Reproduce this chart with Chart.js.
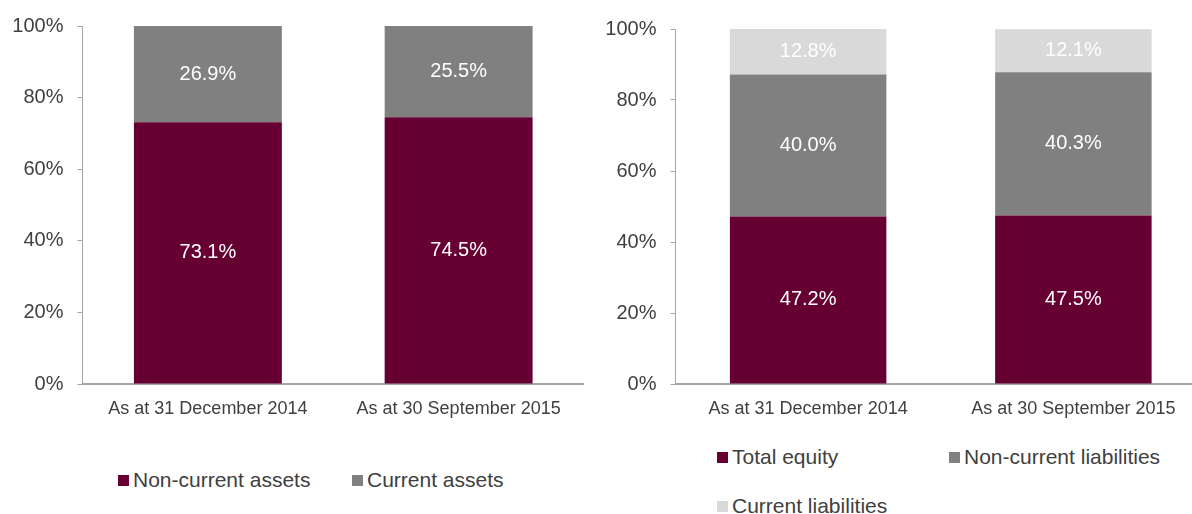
<!DOCTYPE html>
<html>
<head>
<meta charset="utf-8">
<script src="https://cdn.jsdelivr.net/npm/chart.js@4.4.1/dist/chart.umd.min.js"></script>
<style>
  html, body { margin: 0; padding: 0; background: #fff; overflow: hidden; }
  body { width: 1192px; height: 514px; position: relative; font-family: 'Liberation Sans', Arial, sans-serif; }
  .box { position: absolute; top: 0; }
  .leg { position: absolute; display: flex; align-items: center; font-size: 21px; color: #404040; white-space: nowrap; line-height: 24px; }
  .leg i { display: inline-block; width: 11px; height: 11px; margin-right: 4px; }
</style>
</head>
<body>
<div class="box" style="left:0;width:584px;height:440px"><canvas id="assets"></canvas></div>
<div class="box" style="left:596px;width:610px;height:440px"><canvas id="liabs"></canvas></div>
<div id="legends"></div>
<script>
// Kategorien
const categories = ['As at 31 December 2014', 'As at 30 September 2015'];

// Aktiva
const nonCurrentAssets = [73.1, 74.5];
const currentAssets = [26.9, 25.5];

// Passiva
const totalEquity = [47.2, 47.5];
const nonCurrentLiabilities = [40.0, 40.3];
const currentLiabilities = [12.8, 12.1];

const yTicks = [0, 20, 40, 60, 80, 100];

const MAROON = '#660033';
const GREY = '#808080';
const LIGHT = '#d9d9d9';
const TEXT = '#404040';
const AXIS = '#a6a6a6';

Chart.defaults.font.family = "'Liberation Sans', Arial, sans-serif";
Chart.defaults.color = TEXT;

// Werte mittig in die Balken schreiben
const valueLabels = {
  id: 'valueLabels',
  afterDatasetsDraw(chart) {
    const ctx = chart.ctx;
    ctx.save();
    ctx.font = "20px 'Liberation Sans', Arial, sans-serif";
    ctx.fillStyle = '#ffffff';
    ctx.textAlign = 'center';
    ctx.textBaseline = 'middle';
    chart.data.datasets.forEach((ds, i) => {
      chart.getDatasetMeta(i).data.forEach((bar, j) => {
        const y = (bar.y + bar.base) / 2;
        ctx.fillText(ds.data[j].toFixed(1) + '%', bar.x, y);
      });
    });
    ctx.restore();
  }
};

function makeChart(id, datasets, yWidth, topPad) {
  return new Chart(document.getElementById(id), {
    type: 'bar',
    data: { labels: categories, datasets: datasets },
    plugins: [valueLabels],
    options: {
      responsive: true,
      maintainAspectRatio: false,
      animation: false,
      layout: { padding: { top: topPad, right: 0, bottom: 0, left: 0 } },
      plugins: { legend: { display: false }, tooltip: { enabled: false } },
      datasets: { bar: { categoryPercentage: 1, barPercentage: 0.59 } },
      scales: {
        x: {
          stacked: true,
          grid: { display: false, drawTicks: false },
          border: { color: AXIS, width: 2 },
          ticks: { padding: 14, font: { size: 18 }, color: TEXT, maxRotation: 0 },
          afterFit: s => { s.height = 56; }
        },
        y: {
          stacked: true,
          min: 0,
          max: 100,
          afterBuildTicks: s => { s.ticks = yTicks.map(v => ({ value: v })); },
          grid: { drawOnChartArea: false, drawTicks: true, tickLength: 5, color: AXIS },
          border: { color: AXIS, width: 1 },
          ticks: { padding: 14, font: { size: 20 }, color: TEXT, callback: v => v + '%' },
          afterFit: s => { s.width = yWidth; }
        }
      }
    }
  });
}

makeChart('assets', [
  { label: 'Non-current assets', data: nonCurrentAssets, backgroundColor: MAROON },
  { label: 'Current assets', data: currentAssets, backgroundColor: GREY }
], 82.5, 24);

makeChart('liabs', [
  { label: 'Total equity', data: totalEquity, backgroundColor: MAROON },
  { label: 'Non-current liabilities', data: nonCurrentLiabilities, backgroundColor: GREY },
  { label: 'Current liabilities', data: currentLiabilities, backgroundColor: LIGHT }
], 79.5, 29);

// Legenden
const legendItems = [
  ['Non-current assets', MAROON, 118, 480],
  ['Current assets', GREY, 352, 480],
  ['Total equity', MAROON, 717, 457],
  ['Non-current liabilities', GREY, 949, 457],
  ['Current liabilities', LIGHT, 717, 506]
];
const legends = document.getElementById('legends');
legendItems.forEach(([text, color, x, y]) => {
  const el = document.createElement('div');
  el.className = 'leg';
  el.style.left = x + 'px';
  el.style.top = (y - 12) + 'px';
  el.innerHTML = '<i style="background:' + color + '"></i>' + text;
  legends.appendChild(el);
});
</script>
</body>
</html>
